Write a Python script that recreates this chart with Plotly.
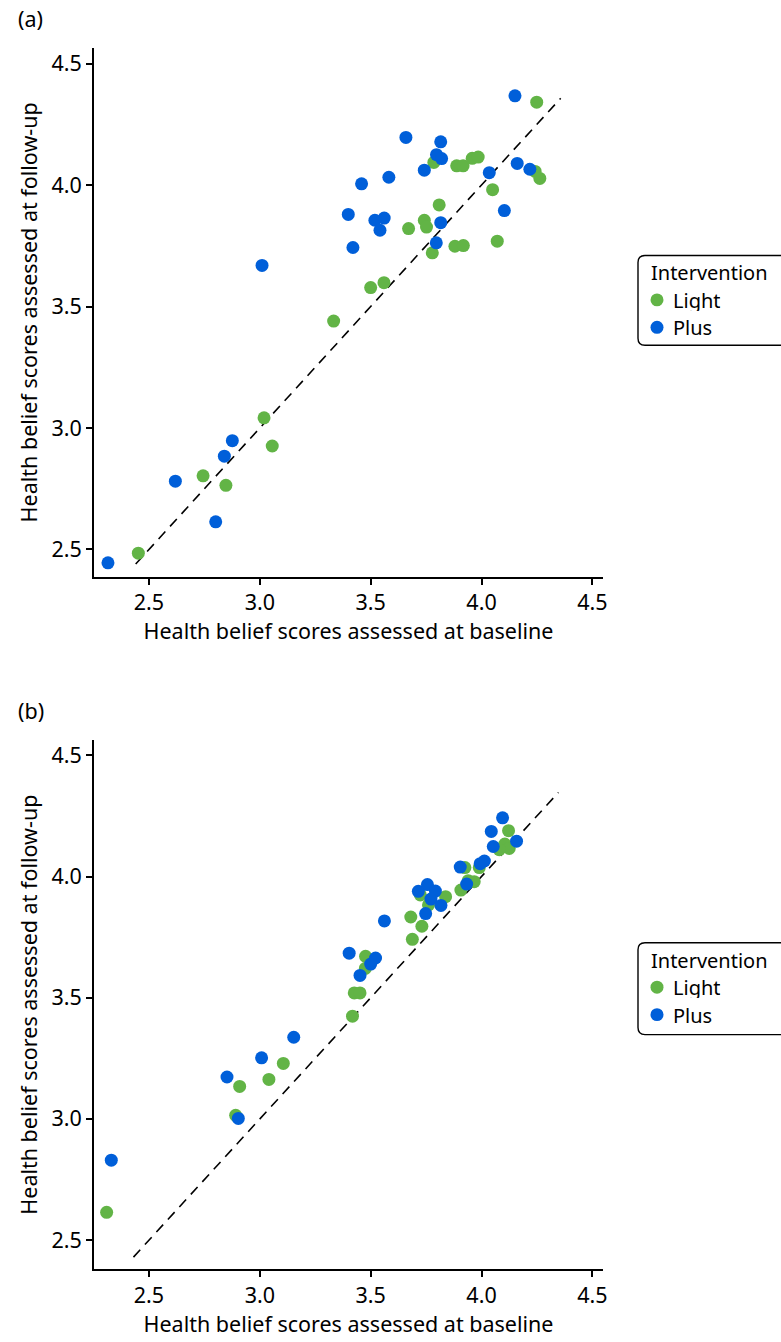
import plotly.graph_objects as go
from plotly.subplots import make_subplots

# Panel (a): baseline vs follow-up health belief scores
a_light_base = [4.249, 3.785, 3.888, 3.917, 3.958, 3.985, 4.242, 4.263, 4.050, 3.809,
                3.742, 3.752, 3.671, 3.778, 3.880, 3.918, 4.071, 3.500, 3.560, 3.333,
                3.019, 3.056, 2.744, 2.847, 2.452]
a_light_follow = [4.341, 4.093, 4.079, 4.079, 4.110, 4.115, 4.056, 4.027, 3.981, 3.918,
                  3.855, 3.827, 3.821, 3.721, 3.748, 3.751, 3.769, 3.578, 3.598, 3.440,
                  3.042, 2.926, 2.803, 2.764, 2.485]
a_plus_base = [4.151, 3.659, 3.816, 3.797, 3.820, 3.742, 3.459, 3.582, 4.161, 4.218,
               4.035, 4.103, 3.399, 3.519, 3.561, 3.542, 3.816, 3.420, 3.796, 3.010,
               2.876, 2.840, 2.619, 2.801, 2.315]
a_plus_follow = [4.367, 4.196, 4.178, 4.125, 4.109, 4.061, 4.005, 4.032, 4.089, 4.065,
                 4.051, 3.895, 3.879, 3.855, 3.864, 3.814, 3.845, 3.743, 3.762, 3.669,
                 2.948, 2.884, 2.781, 2.614, 2.445]

# Panel (b)
b_light_base = [4.122, 4.105, 4.125, 4.080, 3.925, 3.990, 3.940, 3.967, 3.907, 3.724,
                3.838, 3.761, 3.681, 3.731, 3.688, 3.477, 3.476, 3.426, 3.452, 3.418,
                3.106, 3.041, 2.909, 2.891, 2.309]
b_light_follow = [4.189, 4.134, 4.116, 4.111, 4.037, 4.037, 3.983, 3.979, 3.944, 3.924,
                  3.917, 3.883, 3.833, 3.795, 3.741, 3.671, 3.621, 3.520, 3.520, 3.424,
                  3.229, 3.163, 3.134, 3.015, 2.615]
b_plus_base = [4.095, 4.044, 4.053, 4.158, 3.904, 3.994, 4.013, 3.933, 3.756, 3.715,
               3.792, 3.772, 3.817, 3.748, 3.562, 3.403, 3.522, 3.500, 3.452,
               3.153, 3.008, 2.852, 2.903, 2.330]
b_plus_follow = [4.242, 4.186, 4.124, 4.146, 4.039, 4.053, 4.064, 3.969, 3.967, 3.939,
                 3.940, 3.907, 3.881, 3.847, 3.817, 3.684, 3.664, 3.639, 3.592,
                 3.337, 3.252, 3.173, 3.002, 2.830]

# Identity reference line extents
a_ref = [2.44, 4.357]
b_ref = [2.43, 4.347]

tick_vals = [2.5, 3.0, 3.5, 4.0, 4.5]
tick_text = ["2.5", "3.0", "3.5", "4.0", "4.5"]

groups = ["Light", "Plus"]
GREEN = "#62B446"
BLUE = "#005FD9"
colors = {"Light": GREEN, "Plus": BLUE}
FONT = "Noto Sans"
FS = 21.5
LEGEND_FS = 20

W, H = 781, 1342
ML, MR, MT, MB = 94, 178, 48, 70
PW = W - ML - MR
PH = H - MT - MB

fig = make_subplots(rows=2, cols=1, vertical_spacing=164 / PH)

marker_kw = dict(size=13, line=dict(width=0))
dash_kw = dict(color="black", width=1.6, dash="10px,7px")

fig.add_trace(go.Scatter(x=a_ref, y=a_ref, mode="lines", showlegend=False,
                         line=dash_kw), row=1, col=1)
fig.add_trace(go.Scatter(x=a_light_base, y=a_light_follow, mode="markers", name="Light",
                         showlegend=False, marker=dict(color=GREEN, **marker_kw)), row=1, col=1)
fig.add_trace(go.Scatter(x=a_plus_base, y=a_plus_follow, mode="markers", name="Plus",
                         showlegend=False, marker=dict(color=BLUE, **marker_kw)), row=1, col=1)

fig.add_trace(go.Scatter(x=b_ref, y=b_ref, mode="lines", showlegend=False,
                         line=dash_kw), row=2, col=1)
fig.add_trace(go.Scatter(x=b_light_base, y=b_light_follow, mode="markers", name="Light",
                         showlegend=False, marker=dict(color=GREEN, **marker_kw)), row=2, col=1)
fig.add_trace(go.Scatter(x=b_plus_base, y=b_plus_follow, mode="markers", name="Plus",
                         showlegend=False, marker=dict(color=BLUE, **marker_kw)), row=2, col=1)

axis_common = dict(showline=True, linecolor="black", linewidth=1.6, ticks="outside",
                   ticklen=6, tickwidth=1.6, tickcolor="black", showgrid=False,
                   zeroline=False, tickvals=tick_vals, ticktext=tick_text,
                   tickfont=dict(family=FONT, size=FS, color="black"))

fig.update_xaxes(range=[2.252, 4.548], **axis_common,
                 title=dict(text="Health belief scores assessed at baseline",
                            font=dict(family=FONT, size=FS, color="black"), standoff=6))
fig.update_yaxes(**axis_common,
                 title=dict(text="Health belief scores assessed at follow-up",
                            font=dict(family=FONT, size=FS, color="black"), standoff=8))
fig.update_yaxes(range=[2.388, 4.564], row=1, col=1)
fig.update_yaxes(range=[2.381, 4.562], row=2, col=1)


def px_x(px):
    return (px - ML) / PW


def px_y(py):
    return (H - MB - py) / PH


fig.update_layout(
    width=W, height=H,
    margin=dict(l=ML, r=MR, t=MT, b=MB),
    plot_bgcolor="white", paper_bgcolor="white",
    font=dict(family=FONT, size=FS, color="black"),
    showlegend=False,
)


def rounded_box(x0, y0, x1, y1, r=7):
    # pixel-space rounded rectangle converted to paper coordinates
    pts = [
        ("M", x0 + r, y0), ("L", x1 - r, y0), ("Q", x1, y0, x1, y0 + r),
        ("L", x1, y1 - r), ("Q", x1, y1, x1 - r, y1), ("L", x0 + r, y1),
        ("Q", x0, y1, x0, y1 - r), ("L", x0, y0 + r), ("Q", x0, y0, x0 + r, y0),
    ]
    out = []
    for p in pts:
        cmd = p[0]
        coords = p[1:]
        segs = []
        for i in range(0, len(coords), 2):
            segs.append(f"{px_x(coords[i]):.5f},{px_y(coords[i + 1]):.5f}")
        out.append(cmd + " " + " ".join(segs))
    return " ".join(out) + " Z"


def legend_text(text, x, y):
    fig.add_annotation(text=text, xref="paper", yref="paper",
                       x=px_x(x), y=px_y(y), xanchor="left", yanchor="middle",
                       height=22, borderpad=0, valign="middle",
                       showarrow=False, font=dict(family=FONT, size=LEGEND_FS, color="black"))


# Legend boxes: frame, title and one key per intervention group
legend_boxes = [
    dict(top=256, bottom=346, title_y=273, item_y=[300.5, 328]),
    dict(top=945, bottom=1037, title_y=962, item_y=[989.5, 1017]),
]
for box in legend_boxes:
    fig.add_shape(type="path", xref="paper", yref="paper",
                  path=rounded_box(638, box["top"], 800, box["bottom"]),
                  line=dict(color="black", width=1.4), fillcolor="rgba(0,0,0,0)")
    legend_text("Intervention", 650, box["title_y"])
    for g, cy in zip(groups, box["item_y"]):
        r = 6.5
        fig.add_shape(type="circle", xref="paper", yref="paper",
                      x0=px_x(657 - r), x1=px_x(657 + r),
                      y0=px_y(cy + r), y1=px_y(cy - r),
                      fillcolor=colors[g], line=dict(width=0))
        legend_text(g, 672, cy)

for label, py in [("(a)", 18), ("(b)", 712)]:
    fig.add_annotation(text=label, xref="paper", yref="paper", x=px_x(16), y=px_y(py),
                       xanchor="left", yanchor="middle", showarrow=False,
                       font=dict(family=FONT, size=FS, color="black"))

fig.write_html("out.html")
